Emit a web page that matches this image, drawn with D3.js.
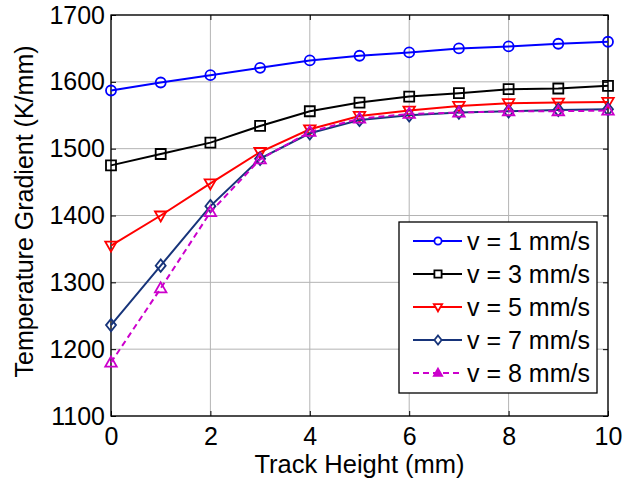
<!DOCTYPE html>
<html>
<head>
<meta charset="utf-8">
<script src="https://cdn.jsdelivr.net/npm/d3@7"></script>
<style>
  body { margin: 0; background: #fff; }
  text { font-family: "Liberation Sans", Arial, sans-serif; fill: #000; }
</style>
</head>
<body>
<script>
// track height (mm)
var heights = [0, 1, 2, 3, 4, 5, 6, 7, 8, 9, 10];
var v1 = [1587, 1599, 1610, 1621, 1632, 1639, 1644, 1650, 1653, 1657, 1660];
var v3 = [1475, 1492, 1509, 1534, 1556, 1569, 1578, 1583, 1589, 1590, 1594];
var v5 = [1355, 1400, 1448, 1495, 1529, 1549, 1557, 1564, 1568, 1569, 1570];
var v7 = [1236, 1325, 1414, 1485, 1523, 1543, 1550, 1554, 1556, 1558, 1559];
var v8 = [1180, 1291, 1405, 1484, 1525, 1545, 1552, 1554, 1556, 1556, 1557];
var seriesNames = ["v = 1 mm/s", "v = 3 mm/s", "v = 5 mm/s", "v = 7 mm/s", "v = 8 mm/s"];
var xTicks = [0, 2, 4, 6, 8, 10];
var yTicks = [1100, 1200, 1300, 1400, 1500, 1600, 1700];

var series = [
  {name: seriesNames[0], vals: v1, color: "#0000ff", marker: "circle", dash: null},
  {name: seriesNames[1], vals: v3, color: "#000000", marker: "square", dash: null},
  {name: seriesNames[2], vals: v5, color: "#ff0000", marker: "tridown", dash: null},
  {name: seriesNames[3], vals: v7, color: "#17347a", marker: "diamond", dash: null},
  {name: seriesNames[4], vals: v8, color: "#cc00cc", marker: "triup", dash: "6,4"}
];

var margin = {top: 15, right: 23, bottom: 66, left: 111};
var width = 631 - margin.left - margin.right,
    height = 482 - margin.top - margin.bottom;

var svg = d3.select("body").append("svg")
    .attr("width", 631)
    .attr("height", 482)
  .append("g")
    .attr("transform", "translate(" + margin.left + "," + margin.top + ")");

var x = d3.scaleLinear().domain([0, 10]).range([0, width]);
var y = d3.scaleLinear().domain([1100, 1700]).range([height, 0]);

// grid
svg.append("g").attr("class", "grid")
  .selectAll("line.gx").data(xTicks).enter().append("line")
  .attr("x1", d => x(d)).attr("x2", d => x(d))
  .attr("y1", 0).attr("y2", height)
  .attr("stroke", "#b4b4b4").attr("stroke-width", 1);
svg.select(".grid")
  .selectAll("line.gy").data(yTicks).enter().append("line")
  .attr("x1", 0).attr("x2", width)
  .attr("y1", d => y(d)).attr("y2", d => y(d))
  .attr("stroke", "#b4b4b4").attr("stroke-width", 1);

// axes
function styleAxis(g) {
  g.select(".domain").remove();
  g.selectAll(".tick line").attr("stroke", "#000");
  g.selectAll(".tick text").style("font-size", "25px").attr("font-family", null);
}
svg.append("g").attr("transform", "translate(0," + height + ")")
  .call(d3.axisBottom(x).tickValues(xTicks).tickFormat(d3.format("d")).tickSizeInner(-5).tickSizeOuter(0).tickPadding(11))
  .call(styleAxis);
svg.append("g")
  .call(d3.axisLeft(y).tickValues(yTicks).tickFormat(d3.format("d")).tickSizeInner(-5).tickSizeOuter(0).tickPadding(6))
  .call(styleAxis);
svg.append("g")
  .call(d3.axisTop(x).tickValues(xTicks).tickSizeInner(-5).tickSizeOuter(0).tickFormat(""))
  .call(styleAxis);
svg.append("g").attr("transform", "translate(" + width + ",0)")
  .call(d3.axisRight(y).tickValues(yTicks).tickSizeInner(-5).tickSizeOuter(0).tickFormat(""))
  .call(styleAxis);

svg.append("rect").attr("width", width).attr("height", height)
  .attr("fill", "none").attr("stroke", "#000").attr("stroke-width", 1.3);

// labels
svg.append("text").attr("x", width / 2).attr("y", height + 57)
  .attr("text-anchor", "middle").style("font-size", "25.5px").text("Track Height (mm)");
svg.append("text").attr("transform", "translate(" + (33 - margin.left) + "," + (height / 2 - 4) + ") rotate(-90)")
  .attr("text-anchor", "middle").style("font-size", "25px").text("Temperature Gradient (K/mm)");

// markers
function markerPath(type, s) {
  switch (type) {
    case "circle": return d3.symbol().type(d3.symbolCircle).size(Math.PI * s * s)();
    case "square": return "M" + (-s) + "," + (-s) + "H" + s + "V" + s + "H" + (-s) + "Z";
    case "diamond": return "M0," + (-s * 1.25) + "L" + s + ",0L0," + (s * 1.25) + "L" + (-s) + ",0Z";
    case "triup": return "M0," + (-s * 1.2) + "L" + (s * 1.15) + "," + (s * 0.8) + "L" + (-s * 1.15) + "," + (s * 0.8) + "Z";
    case "tridown": return "M0," + (s * 1.2) + "L" + (s * 1.15) + "," + (-s * 0.8) + "L" + (-s * 1.15) + "," + (-s * 0.8) + "Z";
  }
}

var line = d3.line().x((d, i) => x(heights[i])).y(d => y(d));

series.forEach(function(s) {
  var g = svg.append("g");
  g.append("path").datum(s.vals)
    .attr("d", line)
    .attr("fill", "none")
    .attr("stroke", s.color)
    .attr("stroke-width", 2)
    .attr("stroke-dasharray", s.dash);
  g.selectAll("path.m").data(s.vals).enter().append("path")
    .attr("class", "m")
    .attr("transform", (d, i) => "translate(" + x(heights[i]) + "," + y(d) + ")")
    .attr("d", markerPath(s.marker, 5))
    .attr("fill", "none")
    .attr("stroke", s.color)
    .attr("stroke-width", 1.8);
});

// legend
var lg = svg.append("g").attr("transform", "translate(" + (399 - margin.left) + "," + (222 - margin.top) + ")");
lg.append("rect").attr("width", 198).attr("height", 171)
  .attr("fill", "#fff").attr("stroke", "#000").attr("stroke-width", 1.3);
series.forEach(function(s, i) {
  var row = lg.append("g").attr("transform", "translate(0," + (19 + i * 33) + ")");
  row.append("line").attr("x1", 14).attr("x2", 63)
    .attr("stroke", s.color).attr("stroke-width", 2)
    .attr("stroke-dasharray", s.dash);
  row.append("path").attr("transform", "translate(39,0)")
    .attr("d", markerPath(s.marker, 3.6))
    .attr("fill", s.marker == "triup" ? s.color : "#fff")
    .attr("stroke", s.color).attr("stroke-width", 1.8);
  row.append("text").attr("x", 68).attr("dy", "0.35em")
    .style("font-size", "25px").text(s.name);
});
</script>
</body>
</html>
